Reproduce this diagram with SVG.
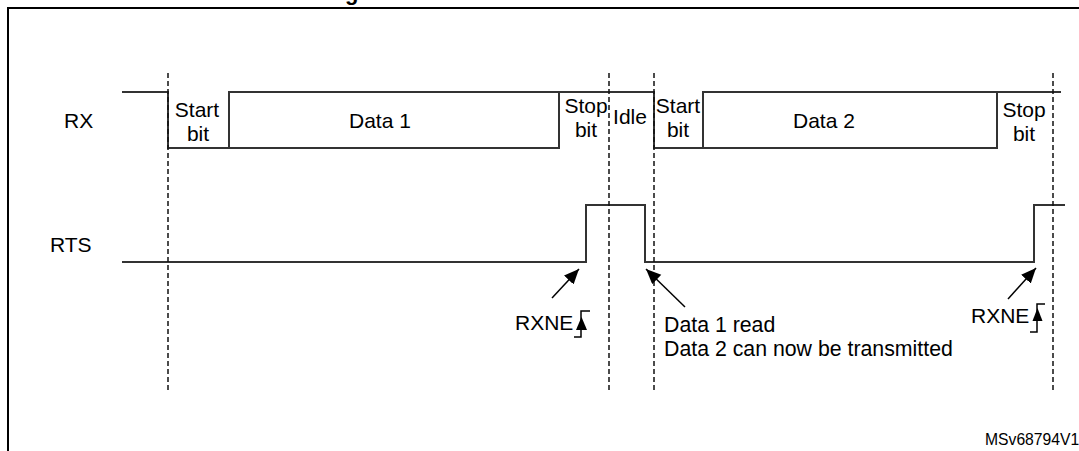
<svg xmlns="http://www.w3.org/2000/svg" width="1079" height="451" viewBox="0 0 1079 451">
<style>
text{font-family:"Liberation Sans",Arial,sans-serif;font-size:21px;fill:#000}
.sig{fill:none;stroke:#333;stroke-width:2}
.dash{fill:none;stroke:#111;stroke-width:1.5;stroke-dasharray:5,3}
.arr{fill:none;stroke:#000;stroke-width:1.5}
.frame{fill:none;stroke:#000;stroke-width:2}
.mid{text-anchor:middle}
</style>
<defs>
<marker id="ah" markerUnits="userSpaceOnUse" markerWidth="16" markerHeight="14" refX="15" refY="6.5" orient="auto">
<path d="M0,0 L15,6.5 L0,13 z" fill="#000"/>
</marker>
</defs>
<rect width="1079" height="451" fill="#fff"/>
<text x="345" y="0" font-weight="bold" style="font-size:22px">g</text>
<path class="frame" d="M8,451 V8 H1079"/>
<g id="labels">
<text x="64" y="128">RX</text>
<text x="50" y="252">RTS</text>
</g>
<g id="rx-signal">
<path class="sig" d="M122,92 H168 V148 H559 V92 H654 V148 H997 V92 H1061"/>
<path class="sig" d="M229,148 V92 H559"/>
<path class="sig" d="M703,148 V92 H997"/>
<text class="mid" x="197" y="117">Start</text>
<text class="mid" x="198" y="141">bit</text>
<text x="349" y="128">Data 1</text>
<text class="mid" x="586" y="113">Stop</text>
<text class="mid" x="586" y="137">bit</text>
<text class="mid" x="630" y="124">Idle</text>
<text class="mid" x="678" y="113">Start</text>
<text class="mid" x="678" y="137">bit</text>
<text x="793" y="128">Data 2</text>
<text class="mid" x="1024" y="117">Stop</text>
<text class="mid" x="1024" y="141">bit</text>
</g>
<g id="rts-signal">
<path class="sig" d="M122,262 H586 V205 H645 V262 H1034 V205 H1065"/>
</g>
<g id="boundaries">
<line class="dash" x1="168" y1="73" x2="168" y2="393"/>
<line class="dash" x1="609" y1="73" x2="609" y2="393"/>
<line class="dash" x1="654" y1="73" x2="654" y2="393"/>
<line class="dash" x1="1053" y1="73" x2="1053" y2="393"/>
</g>
<g id="connectors">
<line class="arr" x1="552" y1="298" x2="579" y2="269" marker-end="url(#ah)"/>
<line class="arr" x1="685" y1="307" x2="646" y2="269" marker-end="url(#ah)"/>
<line class="arr" x1="1008" y1="299" x2="1036" y2="268" marker-end="url(#ah)"/>
</g>
<g id="rxne1">
<text x="515" y="330">RXNE</text>
<path class="arr" d="M574,337 H581 V311 H590"/>
<path d="M576,330 L587,330 L581.5,317 z" fill="#000"/>
</g>
<g id="rxne2">
<text x="971" y="323">RXNE</text>
<path class="arr" d="M1030,332 H1037 V304 H1045"/>
<path d="M1032.5,321 L1042.5,321 L1037.5,308 z" fill="#000"/>
</g>
<g id="note">
<text x="664" y="332" style="font-size:21.3px">Data 1 read</text>
<text x="664" y="356" style="font-size:21.3px">Data 2 can now be transmitted</text>
</g>
<text x="985" y="445" style="font-size:15.7px">MSv68794V1</text>
</svg>
